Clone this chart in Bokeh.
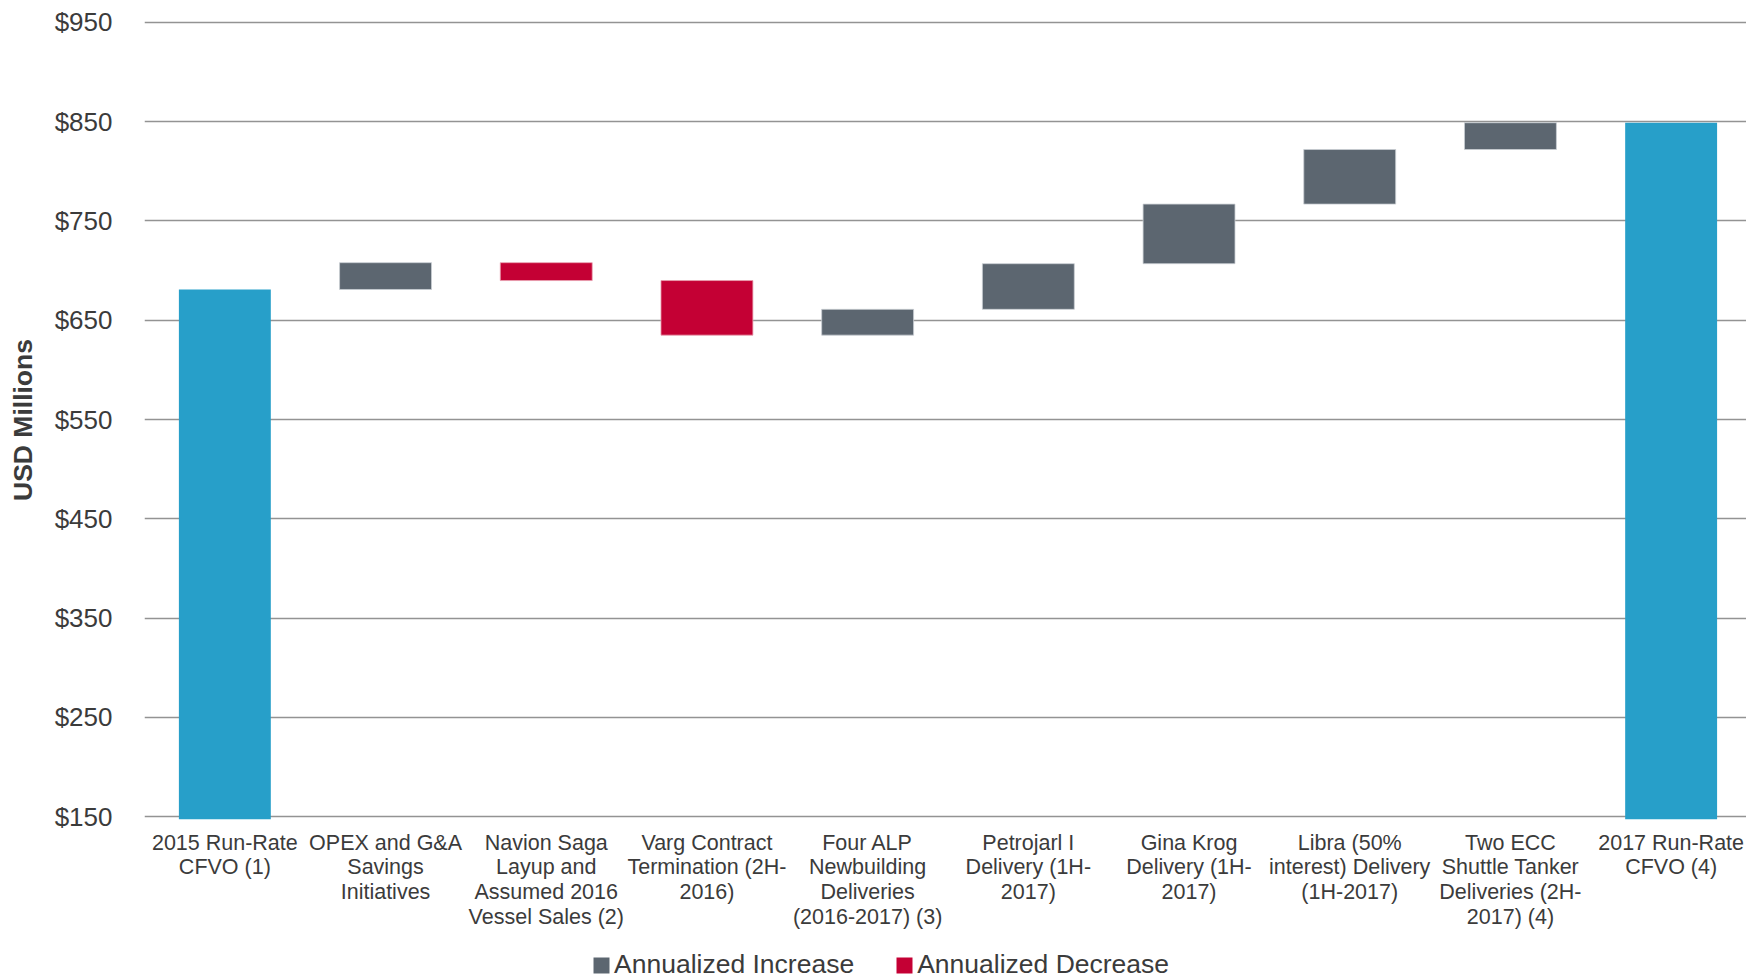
from bokeh.plotting import figure
from bokeh.layouts import column
from bokeh.models import Range1d, FixedTicker, NumeralTickFormatter, Legend, LegendItem
from bokeh.embed import file_html
from bokeh.resources import INLINE

# ---- data ----
categories = [
    "2015 Run-Rate\nCFVO (1)",
    "OPEX and G&A\nSavings\nInitiatives",
    "Navion Saga\nLayup and\nAssumed 2016\nVessel Sales (2)",
    "Varg Contract\nTermination (2H-\n2016)",
    "Four ALP\nNewbuilding\nDeliveries\n(2016-2017) (3)",
    "Petrojarl I\nDelivery (1H-\n2017)",
    "Gina Krog\nDelivery (1H-\n2017)",
    "Libra (50%\ninterest) Delivery\n(1H-2017)",
    "Two ECC\nShuttle Tanker\nDeliveries (2H-\n2017) (4)",
    "2017 Run-Rate\nCFVO (4)",
]
start_value = 681
deltas = [27, -18, -55, 26, 46, 60, 55, 27]
y_ticks = [150, 250, 350, 450, 550, 650, 750, 850, 950]
y_min, y_max = 150, 950
legend_labels = ["Annualized Increase", "Annualized Decrease"]

BLUE = "#279FC9"
GRAY = "#5C6670"
RED = "#C40034"
TEXT = "#3b3b3b"
FONT = "Liberation Sans"

# ---- waterfall geometry from data ----
n = len(categories)
xs = [i + 0.5 for i in range(n)]
inc_x, inc_b, inc_t = [], [], []
dec_x, dec_b, dec_t = [], [], []
level = start_value
for i, d in enumerate(deltas):
    new = level + d
    if d >= 0:
        inc_x.append(xs[i + 1]); inc_b.append(level); inc_t.append(new)
    else:
        dec_x.append(xs[i + 1]); dec_b.append(new); dec_t.append(level)
    level = new
end_value = level
tot_x = [xs[0], xs[-1]]
tot_t = [start_value, end_value]

base = y_min - 3  # bars run slightly below the lowest gridline, as in the source
p = figure(width=1746, height=932, output_backend="svg", toolbar_location=None,
           x_range=Range1d(0, 9.969), y_range=Range1d(base, y_max + 2),
           min_border_left=144, min_border_right=0, min_border_top=20,
           min_border_bottom=112)
p.outline_line_color = None
p.background_fill_color = "white"
p.border_fill_color = "white"

w = 0.572
p.vbar(x=tot_x, bottom=base, top=tot_t, width=w, fill_color=BLUE, line_color=None)
p.vbar(x=inc_x, bottom=inc_b, top=inc_t, width=w, fill_color=GRAY,
       line_color="#c9ced3", line_width=0.8)
p.vbar(x=dec_x, bottom=dec_b, top=dec_t, width=w, fill_color=RED,
       line_color="#e8a0b0", line_width=0.8)

# axes
p.xaxis.ticker = FixedTicker(ticks=xs)
p.xaxis.major_label_overrides = {x: c for x, c in zip(xs, categories)}
p.xaxis.axis_line_color = None
p.xaxis.major_tick_line_color = None
p.xaxis.minor_tick_line_color = None
p.xaxis.major_tick_out = 0
p.xaxis.major_tick_in = 0
p.xaxis.major_label_standoff = 11
p.xaxis.major_label_text_font = FONT
p.xaxis.major_label_text_font_size = "21.5px"
p.xaxis.major_label_text_color = TEXT
p.xaxis.major_label_text_line_height = 1.04

p.yaxis.ticker = FixedTicker(ticks=y_ticks)
p.yaxis.formatter = NumeralTickFormatter(format="$0")
p.yaxis.axis_line_color = None
p.yaxis.major_tick_line_color = None
p.yaxis.minor_tick_line_color = None
p.yaxis.major_tick_out = 0
p.yaxis.major_tick_in = 0
p.yaxis.major_label_standoff = 32
p.yaxis.major_label_text_font = FONT
p.yaxis.major_label_text_font_size = "26px"
p.yaxis.major_label_text_color = TEXT
p.yaxis.axis_label = "USD Millions"
p.yaxis.axis_label_text_font = FONT
p.yaxis.axis_label_text_font_size = "26.5px"
p.yaxis.axis_label_text_font_style = "bold"
p.yaxis.axis_label_text_color = TEXT
p.yaxis.axis_label_standoff = 14

p.xgrid.grid_line_color = None
p.ygrid.ticker = FixedTicker(ticks=y_ticks)
p.ygrid.grid_line_color = "#939393"
p.ygrid.grid_line_width = 1.5
p.ygrid.level = "underlay"

# ---- legend strip (separate small figure under the chart) ----
lf = figure(width=1746, height=48, output_backend="svg", toolbar_location=None,
            x_range=Range1d(0, 1), y_range=Range1d(0, 1),
            min_border_left=0, min_border_right=0, min_border_top=0,
            min_border_bottom=0)
lf.axis.visible = False
lf.grid.visible = False
lf.outline_line_color = None
lf.background_fill_color = "white"
lf.border_fill_color = "white"
# legend-only renderers with zero-size bars (nothing visible is drawn)
l_inc = lf.vbar(x=[0.5], bottom=[0], top=[0], width=0, fill_color=GRAY, line_color=None)
l_dec = lf.vbar(x=[0.5], bottom=[0], top=[0], width=0, fill_color=RED, line_color=None)

legend = Legend(items=[LegendItem(label=legend_labels[0], renderers=[l_inc]),
                       LegendItem(label=legend_labels[1], renderers=[l_dec])],
                orientation="horizontal", location=(447, 0),
                padding=0, margin=0, spacing=40, glyph_width=20, glyph_height=20,
                label_standoff=3, label_height=24,
                label_text_font=FONT, label_text_font_size="26.5px",
                label_text_line_height=1.0,
                label_text_color=TEXT, border_line_color=None,
                background_fill_alpha=0)
lf.add_layout(legend, "center")

layout = column(p, lf, spacing=0)
open("out.html", "w").write(file_html(layout, INLINE))
